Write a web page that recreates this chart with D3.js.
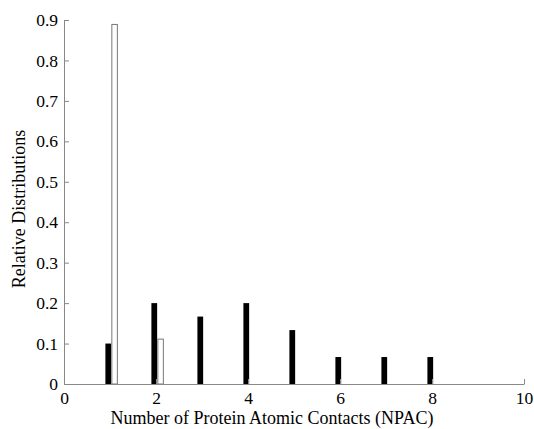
<!DOCTYPE html>
<html>
<head>
<meta charset="utf-8">
<script src="https://cdn.jsdelivr.net/npm/d3@7"></script>
<style>
  body { margin: 0; background: #fff; }
</style>
</head>
<body>
<div id="chart"></div>
<script>
// contact counts and the two distributions
const npac = [1, 2, 3, 4, 5, 6, 7, 8];
const blackSeries = [0.1, 0.2, 0.1667, 0.2, 0.1333, 0.0667, 0.0667, 0.0667];
const whiteSeries = [0.889, 0.111, 0, 0, 0, 0, 0, 0];
const xTicks = [0, 2, 4, 6, 8, 10];
const yTicks = [0, 0.1, 0.2, 0.3, 0.4, 0.5, 0.6, 0.7, 0.8, 0.9];

const serif = "'Liberation Serif', 'Times New Roman', Times, serif";

const margin = {top: 20, right: 10, bottom: 45, left: 64},
    width = 534 - margin.left - margin.right,
    height = 429 - margin.top - margin.bottom;

const svg = d3.select("#chart")
    .append("svg")
    .attr("width", 534)
    .attr("height", 429)
    .append("g")
    .attr("transform", `translate(${margin.left}, ${margin.top})`);

const x = d3.scaleLinear().domain([0, 10]).range([0, 460]);
const y = d3.scaleLinear().domain([0, 0.9]).range([height, 0]);

// bars: black one just left of each integer, white one just right
svg.selectAll(".bblack")
    .data(npac)
    .enter().append("rect")
    .attr("class", "bblack")
    .attr("x", (d) => x(d - 0.1))
    .attr("width", x(0.125) - x(0))
    .attr("y", (d, i) => y(blackSeries[i]))
    .attr("height", (d, i) => height - y(blackSeries[i]))
    .attr("fill", "black");

svg.selectAll(".bwhite")
    .data(npac.filter((d, i) => whiteSeries[i] > 0))
    .enter().append("rect")
    .attr("class", "bwhite")
    .attr("x", (d) => x(d + 0.04))
    .attr("width", x(0.12) - x(0))
    .attr("y", (d) => y(whiteSeries[d - 1]))
    .attr("height", (d) => height - y(whiteSeries[d - 1]))
    .attr("fill", "white")
    .attr("stroke", "#777")
    .attr("stroke-width", 1);

const xAxis = svg.append("g")
    .attr("transform", `translate(0, ${height})`)
    .call(d3.axisBottom(x).tickValues(xTicks).tickSize(-5).tickSizeOuter(0).tickPadding(8).tickFormat(d3.format("d")));

const yAxis = svg.append("g")
    .call(d3.axisLeft(y).tickValues(yTicks).tickSize(-5).tickSizeOuter(0).tickPadding(6).tickFormat((d) => d === 0 ? "0" : d3.format(".1f")(d)));

[xAxis, yAxis].forEach(function(a) {
    a.attr("font-family", null);
    a.select(".domain").attr("stroke", "#888");
    a.selectAll(".tick line").attr("stroke", "#888");
    a.selectAll(".tick text")
        .style("font-family", serif)
        .style("font-size", "17.5px")
        .attr("fill", "black");
});

svg.append("text")
    .attr("x", x(5) - 22)
    .attr("y", height + 40)
    .attr("text-anchor", "middle")
    .style("font-family", serif)
    .style("font-size", "18px")
    .text("Number of Protein Atomic Contacts (NPAC)");

svg.append("text")
    .attr("transform", `translate(${-39}, ${height / 2 + 7}) rotate(-90)`)
    .attr("text-anchor", "middle")
    .style("font-family", serif)
    .style("font-size", "18px")
    .text("Relative Distributions");
</script>
</body>
</html>
